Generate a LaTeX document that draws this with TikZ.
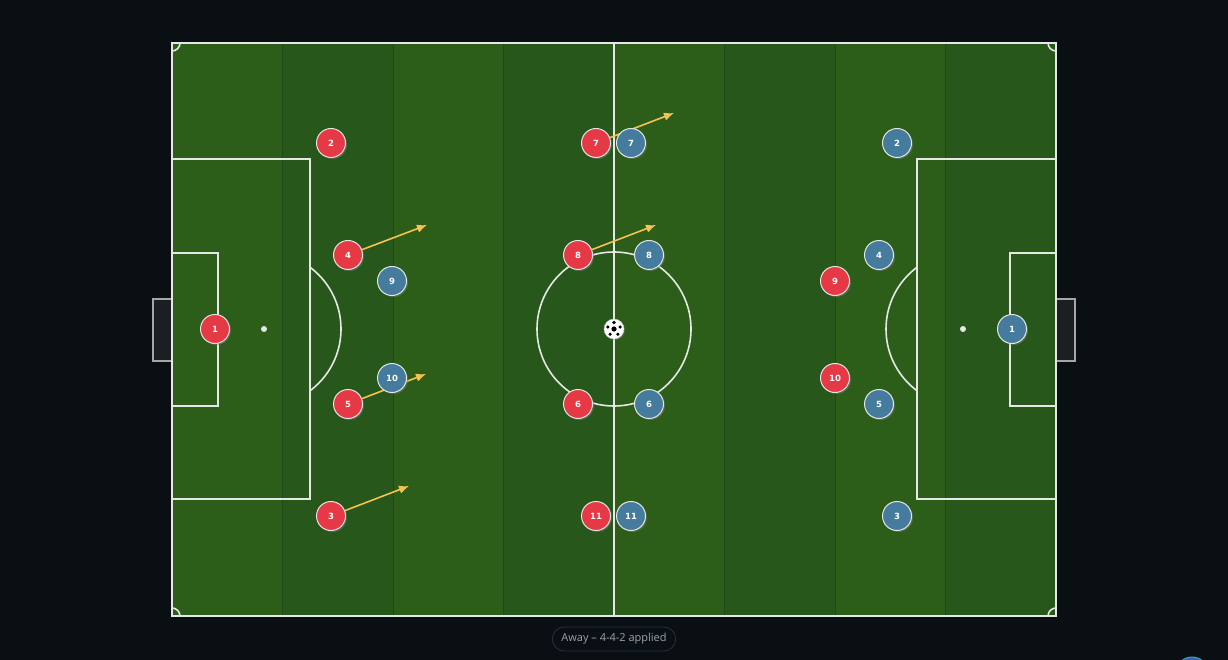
\documentclass[tikz,border=0pt]{standalone}
\usepackage{fontspec}
\setmainfont{DejaVu Sans}
\newfontfamily\capfont{Open Sans}
\usetikzlibrary{arrows.meta, shadows}
\definecolor{bgdark}{HTML}{0A0F14}
\definecolor{grasslight}{HTML}{2C5E1A}
\definecolor{grassdark}{HTML}{27571A}
\definecolor{stripeline}{HTML}{1F4A15}
\definecolor{chalk}{HTML}{E6E8E6}
\definecolor{homered}{HTML}{E63946}
\definecolor{awayblue}{HTML}{457B9D}
\definecolor{runyellow}{HTML}{F7C350}
\definecolor{goalfill}{HTML}{1B1F24}
\definecolor{pillline}{HTML}{2B3138}
\definecolor{pilltext}{HTML}{9AA3AD}
\tikzstyle{marking} = [draw=chalk, line width=1.6pt]
\tikzstyle{player} = [circle, draw=white!80!gray, line width=1pt, minimum size=29pt, inner sep=0pt, text=white, font=\bfseries\fontsize{8.5}{9}\selectfont, drop shadow={shadow xshift=1.5pt, shadow yshift=-1.5pt, opacity=0.45}]
\tikzstyle{home} = [player, fill=homered]
\tikzstyle{away} = [player, fill=awayblue]
\tikzstyle{run} = [draw=runyellow, line width=1.6pt, -{Latex[length=10pt,width=8.5pt]}]
\tikzstyle{caption} = [draw=pillline, line width=0.8pt, rounded corners=12pt, fill=bgdark, text=pilltext, minimum height=24pt, inner xsep=9pt, font=\capfont\fontsize{11}{12}\selectfont]

\begin{document}
\begin{tikzpicture}[x=1pt, y=-1pt]

\fill [bgdark] (0,0) rectangle (1228,660);
\useasboundingbox (0,0) rectangle (1228,660);

% grass stripes
\foreach \xa in {172,393,614,835}
  \fill [grasslight] (\xa,43) rectangle ++(110.5,573);
\foreach \xa in {282.5,503.5,724.5,945.5}
  \fill [grassdark] (\xa,43) rectangle ++(110.5,573);
\foreach \xa in {282.5,393,503.5,724.5,835,945.5}
  \draw [stripeline, line width=0.6pt] (\xa,43) -- (\xa,616);

% goals
\draw [fill=goalfill, draw=gray!70, line width=1.2pt] (153,299) rectangle (172,361);
\draw [fill=goalfill, draw=gray!70, line width=1.2pt] (1056,299) rectangle (1075,361);

% pitch markings
\draw [marking] (172,43) rectangle (1056,616);
\draw [marking] (614,43) -- (614,616);
\draw [marking] (614,329) circle (77);
\draw [marking] (172,159) rectangle (310,499);
\draw [marking] (172,253) rectangle (218,406);
\draw [marking] (917,159) rectangle (1056,499);
\draw [marking] (1010,253) rectangle (1056,406);
\fill [chalk] (264,329) circle (3);
\fill [chalk] (963,329) circle (3);
\begin{scope}
  \clip (310,159) rectangle (400,499);
  \draw [marking] (264,329) circle (77);
\end{scope}
\begin{scope}
  \clip (828,159) rectangle (917,499);
  \draw [marking] (963,329) circle (77);
\end{scope}
\begin{scope}
  \clip (172,43) rectangle (1056,616);
  \draw [marking] (172,43) circle (8);
  \draw [marking] (1056,43) circle (8);
  \draw [marking] (172,616) circle (8);
  \draw [marking] (1056,616) circle (8);
\end{scope}

% ball
\node [circle, fill=white, draw=gray!40, minimum size=20pt, inner sep=0pt, drop shadow={shadow xshift=1pt, shadow yshift=-1pt, opacity=0.4}] (ball) at (614,329) {};
\fill [black] (ball.center) circle (2.6);
\foreach \a in {90,162,234,306,18}
  \fill [black] (ball.center) ++(\a:-6.5) circle (1.8);

% home side
\node [home] (h1) at (215,329) {1};
\node [home] (h2) at (331,143) {2};
\node [home] (h4) at (348,255) {4};
\node [home] (h5) at (348,404) {5};
\node [home] (h3) at (331,516) {3};
\node [home] (h7) at (596,143) {7};
\node [home] (h8) at (578,255) {8};
\node [home] (h6) at (578,404) {6};
\node [home] (h11) at (596,516) {11};
\node [home] (h9) at (835,281) {9};
\node [home] (h10) at (835,378) {10};

% runs
\coordinate (r4) at (427,225);
\coordinate (r5) at (426,374);
\coordinate (r3) at (409,486);
\coordinate (r7) at (674,113);
\coordinate (r8) at (656,225);
\path [run] (h4) -- (r4);
\path [run] (h5) -- (r5);
\path [run] (h3) -- (r3);
\path [run] (h7) -- (r7);
\path [run] (h8) -- (r8);

% away side
\node [away] (a1) at (1012,329) {1};
\node [away] (a2) at (897,143) {2};
\node [away] (a4) at (879,255) {4};
\node [away] (a5) at (879,404) {5};
\node [away] (a3) at (897,516) {3};
\node [away] (a7) at (631,143) {7};
\node [away] (a8) at (649,255) {8};
\node [away] (a6) at (649,404) {6};
\node [away] (a11) at (631,516) {11};
\node [away] (a9) at (392,281) {9};
\node [away] (a10) at (392,378) {10};

\node [caption] (note) at (614,639) {Away – 4-4-2 applied};

\begin{scope}
  \clip (0,0) rectangle (1228,660);
  \node [circle, fill=awayblue!80!blue, draw=awayblue!60!cyan, line width=1pt, minimum size=32pt] (help) at (1192,673) {};
\end{scope}

\end{tikzpicture}
\end{document}
